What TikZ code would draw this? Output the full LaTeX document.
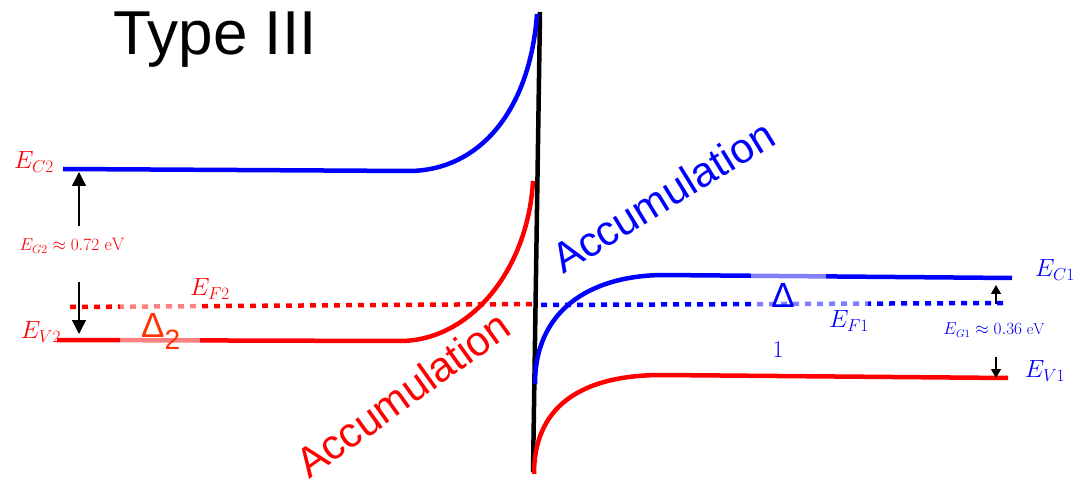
\documentclass[tikz,border=0pt]{standalone}
\usepackage{amsmath,amssymb}
\usepackage{fontspec}
\setsansfont{Liberation Sans}
\usepackage{xcolor}
\usetikzlibrary{arrows.meta,positioning}
\definecolor{bandblue}{RGB}{0,0,255}
\definecolor{bandred}{RGB}{255,0,0}
\definecolor{deltared}{RGB}{255,51,0}

\begin{document}
\begin{tikzpicture}[
  x=1pt,y=-1pt,
  band/.style={line width=4.5pt},
  fermi/.style={line width=4.5pt,dash pattern=on 6pt off 6pt},
  gaparr/.style={-{Triangle[length=14pt,width=14pt]},line width=1.6pt,black},
  smallarr/.style={-{Triangle[length=9pt,width=10pt]},line width=1.4pt,black},
  lbl/.style={inner sep=0pt,font=\fontsize{24}{28}\selectfont},
  acc/.style={inner sep=0pt,anchor=base west,font=\sffamily\fontsize{42}{48}\selectfont}
]
\useasboundingbox (0,0) rectangle (1084,486);

% interface
\draw[line width=4.5pt] (540,12) coordinate (itop) -- (533,472) coordinate (ibot);

% left side (material 2)
\draw[band,bandblue] (63,169) -- (410,171) .. controls (480,170) and (530,110) .. (537,14);
\draw[band,bandred] (57,340) -- (400,341) .. controls (470,341) and (528,270) .. (533,181);
\draw[fermi,bandred] (70,307) -- (535,304);

% right side (material 1)
\draw[band,bandblue] (535,384) .. controls (535,310) and (590,276) .. (662,275) -- (1012,278);
\draw[band,bandred] (534,474) .. controls (534,400) and (590,375) .. (662,375) -- (1008,378);
\draw[fermi,bandblue] (541,305) -- (1007,303);

% faded parts under the Delta labels
\fill[white,opacity=0.5] (120,296) rectangle (200,348);
\fill[white,opacity=0.5] (751,268) rectangle (826,286);
\fill[white,opacity=0.5] (753,296) rectangle (868,312);

% title
\node[inner sep=0pt,anchor=base west,font=\sffamily\fontsize{62}{70}\selectfont] (title) at (113,55) {Type III};

% left labels
\node[lbl,text=bandred] (ec2) at (34,162) {$E_{C2}$};
\node[lbl,text=bandred] (ev2) at (41,332) {$E_{V2}$};
\node[lbl,text=bandred] (ef2) at (210,289) {$E_{F2}$};
\node[inner sep=0pt,text=bandred,font=\fontsize{18}{20}\selectfont] (eg2) at (72,246) {$E_{G2}\approx 0.72\ \mathrm{eV}$};
\coordinate (eg2top) at (79,172);
\coordinate (eg2bot) at (79,334);
\draw[gaparr] (79,226) -- (eg2top);
\draw[gaparr] (79,282) -- (eg2bot);
\node[inner sep=0pt,anchor=base west,text=deltared,font=\sffamily\fontsize{35}{40}\selectfont] (delta2) at (141,337) {Δ\raisebox{-13pt}{\fontsize{28}{32}\selectfont 2}};

% right labels
\node[lbl,text=bandblue] (ec1) at (1055,270) {$E_{C1}$};
\node[lbl,text=bandblue] (ev1) at (1045,371) {$E_{V1}$};
\node[lbl,text=bandblue] (ef1) at (849,321) {$E_{F1}$};
\node[inner sep=0pt,text=bandblue,font=\fontsize{16}{18}\selectfont] (eg1) at (994,330) {$E_{G1}\approx 0.36\ \mathrm{eV}$};
\coordinate (eg1top) at (996,285);
\coordinate (eg1bot) at (996,378);
\draw[smallarr] (996,304) -- (eg1top);
\draw[smallarr] (996,357) -- (eg1bot);
\node[inner sep=0pt,anchor=base,text=bandblue,font=\sffamily\fontsize{35}{40}\selectfont] (delta1) at (783,308) {Δ};
\node[inner sep=0pt,anchor=base,text=bandblue,font=\fontsize{24}{28}\selectfont] (sub1) at (778,357) {1};

% accumulation labels
\node[acc,text=bandblue,rotate=31.5] (accblue) at (563,275) {Accumulation};
\node[acc,text=bandred,rotate=35.7] (accred) at (309,480) {Accumulation};
\end{tikzpicture}
\end{document}
